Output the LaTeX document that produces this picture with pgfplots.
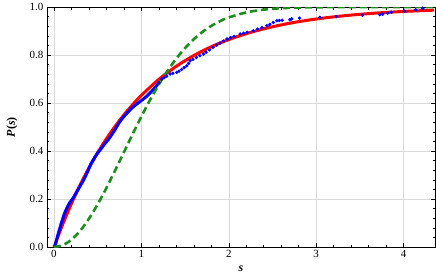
\documentclass[border=0pt]{standalone}
\usepackage{fontspec}
\setmainfont{Liberation Serif}
\usepackage{pgfplots}
\pgfplotsset{compat=1.18}
\definecolor{mgreen}{rgb}{0.12,0.55,0.12}
\begin{document}
\begin{tikzpicture}
\begin{axis}[
  scale only axis, width=388pt, height=240pt,
  xmin=-0.08, xmax=4.36, ymin=0, ymax=1,
  xtick={0,1,2,3,4}, ytick={0,0.2,0.4,0.6,0.8,1.0},
  minor x tick num=4, minor y tick num=4,
  tick align=inside, major tick length=4pt, minor tick length=2.5pt,
  tick style={black, line width=0.5pt},
  axis line style={black, line width=0.7pt},
  grid=major, major grid style={gray!30, line width=0.5pt},
  /pgf/number format/assume math mode=true,
  yticklabel style={/pgf/number format/.cd, fixed, fixed zerofill, precision=1},
  ticklabel style={font=\fontsize{11}{12}\selectfont},
  xlabel={\textbf{\textit{s}}}, ylabel={\textbf{\textit{P}}\textbf{(}\textbf{\textit{s}}\textbf{)}},
  xlabel style={at={(axis description cs:0.5,-0.09)}, anchor=center, font=\fontsize{12}{13}\selectfont},
  ylabel style={at={(axis description cs:-0.09,0.5)}, anchor=center, rotate=0, font=\fontsize{12}{13}\selectfont},
]
% red: Poisson
\addplot[red, line width=3pt, smooth] coordinates {
(0,0) (0.1,0.0952) (0.2,0.1813) (0.3,0.2592) (0.4,0.3297) (0.5,0.3935) (0.6,0.4512) (0.7,0.5034) (0.8,0.5507) (0.9,0.5934) (1.0,0.6321) (1.2,0.6988) (1.4,0.7534) (1.6,0.7981) (1.8,0.8347) (2.0,0.8647) (2.25,0.8946) (2.5,0.9179) (2.75,0.9361) (3.0,0.9502) (3.25,0.9612) (3.5,0.9698) (3.75,0.9765) (4.0,0.9817) (4.25,0.9857) (4.35,0.9871)
};
% blue: data, dense part
\addplot[blue, line width=3pt, line join=round, line cap=round] coordinates {
(0.01,0.0) (0.04,0.045) (0.08,0.095) (0.12,0.14) (0.15,0.165) (0.18,0.185) (0.22,0.205) (0.26,0.23) (0.30,0.255) (0.34,0.28) (0.38,0.31) (0.42,0.345) (0.46,0.37) (0.50,0.392) (0.54,0.41) (0.58,0.43) (0.62,0.447) (0.66,0.468) (0.70,0.49) (0.74,0.515) (0.78,0.535) (0.82,0.552) (0.86,0.568) (0.90,0.582) (0.94,0.594) (0.98,0.605) (1.02,0.616) (1.06,0.628) (1.10,0.642) (1.14,0.658) (1.18,0.675) (1.20,0.685)
};
% blue: data, sparse part
\addplot[only marks, mark=*, mark size=1.5pt, blue, mark options={draw=none, fill=blue}] coordinates {
(1.20,0.685) (1.234,0.70) (1.26,0.706) (1.29,0.712) (1.329,0.721) (1.36,0.724) (1.405,0.728) (1.43,0.733) (1.46,0.74) (1.49,0.748) (1.52,0.755) (1.54,0.765) (1.558,0.776) (1.59,0.782) (1.63,0.79) (1.67,0.797) (1.71,0.804) (1.74,0.812) (1.78,0.822) (1.82,0.832) (1.86,0.841) (1.90,0.85) (1.94,0.858) (1.98,0.867) (2.02,0.873) (2.06,0.878) (2.13,0.888) (2.17,0.891) (2.21,0.895) (2.28,0.901) (2.33,0.908) (2.38,0.914) (2.436,0.922) (2.47,0.928) (2.51,0.936) (2.55,0.943) (2.58,0.944) (2.61,0.945)
(2.70,0.947) (2.72,0.951) (2.81,0.954) (3.04,0.957) (3.23,0.960) (3.53,0.966) (3.73,0.968) (3.76,0.970) (3.82,0.975) (3.86,0.979) (4.01,0.983) (4.14,0.988) (4.22,0.995)
};
% green: Wigner
\addplot[mgreen, line width=2.6pt, dash pattern=on 7pt off 4pt, smooth] coordinates {
(0,0) (0.1,0.0078) (0.2,0.0309) (0.3,0.0682) (0.4,0.1181) (0.5,0.1783) (0.6,0.2463) (0.7,0.3195) (0.8,0.3951) (0.9,0.4707) (1.0,0.5441) (1.1,0.6134) (1.2,0.6773) (1.3,0.7348) (1.4,0.7855) (1.5,0.8292) (1.6,0.8661) (1.7,0.8967) (1.8,0.9215) (1.9,0.9413) (2.0,0.9568) (2.2,0.9777) (2.4,0.9892) (2.6,0.9951) (2.8,0.9979) (3.0,0.9992) (3.5,0.9999) (4.36,1.0)
};
\end{axis}
\path (-47pt,-29.7pt) rectangle (389pt,246pt);
\end{tikzpicture}
\end{document}
